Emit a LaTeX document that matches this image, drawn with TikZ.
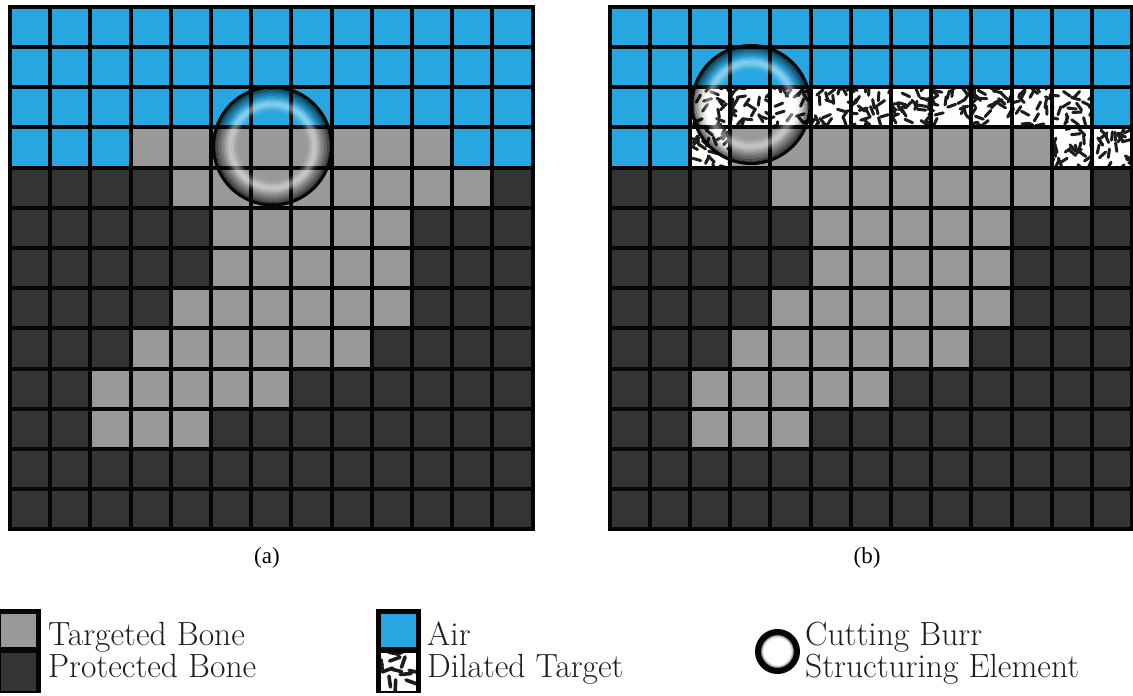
\documentclass[tikz,border=0pt]{standalone}
\usepackage{fontspec}
\newfontfamily\capfont{Liberation Serif}
\definecolor{cellA}{RGB}{38,167,225}
\definecolor{cellT}{RGB}{153,153,153}
\definecolor{cellP}{RGB}{51,52,52}
\definecolor{cellD}{RGB}{255,255,255}
\definecolor{gline}{RGB}{5,5,5}
\definecolor{dashc}{RGB}{28,28,28}
\definecolor{legtxt}{RGB}{30,30,30}
\tikzset{
  gridline/.style={draw=gline, line width=4pt},
  legtext/.style={inner sep=0pt, anchor=base west, text=legtxt, font=\fontsize{33.5}{33.5}\selectfont},
  captext/.style={inner sep=0pt, anchor=base, font=\capfont\fontsize{23}{23}\selectfont},
}
\newcommand\cellsize{40.2}
% x y w h count half-length width
\newcommand\dilcell[7]{%
  \begin{scope}
    \clip (#1,#2) rectangle ++(#3,#4);
    \foreach \nn in {1,...,#5}{%
      \pgfmathsetmacro\dx{rnd*(#3+8)-4}%
      \pgfmathsetmacro\dy{rnd*(#4+8)-4}%
      \pgfmathsetmacro\ang{rnd*360}%
      \draw[draw=dashc, line width=#7pt, line cap=round] (#1+\dx,#2+\dy) ++(\ang:#6) -- ++(\ang+180:2*#6);
    }
  \end{scope}}
\newcommand\drawgrid[3]{%
  \foreach \rowlist [count=\rr from 0] in {#3}{%
    \foreach \cc [count=\kk from 0] in \rowlist {%
      \fill[fill=cell\cc] (#1+\kk*\cellsize, #2+\rr*\cellsize) rectangle ++(\cellsize,\cellsize);
      \if D\cc
        \dilcell{#1+\kk*\cellsize}{#2+\rr*\cellsize}{\cellsize}{\cellsize}{28}{4.2}{3}
      \fi
    }
  }
  \foreach \ii in {1,...,12}{%
    \draw[gridline] (#1+\ii*\cellsize,#2) -- ++(0,13*\cellsize);
    \draw[gridline] (#1,#2+\ii*\cellsize) -- ++(13*\cellsize,0);
  }
  \draw[gridline, line join=miter] (#1,#2) rectangle ++(13*\cellsize,13*\cellsize);
}
\newcommand\glass[3]{%
  \foreach \ii in {0,...,47}{%
    \pgfmathsetmacro\ra{(0.4+0.6*\ii/48)*#3}%
    \pgfmathsetmacro\rb{(0.4+0.6*(\ii+1)/48)*#3}%
    \pgfmathsetmacro\tm{0.4+0.6*(\ii+0.5)/48}%
    \pgfmathsetmacro\wo{0.42*exp(-(\tm-0.7)*(\tm-0.7)/0.0064)}%
    \pgfmathsetmacro\bq{max(0,\tm-0.72)/0.28}%
    \pgfmathsetmacro\bo{0.92*\bq*\bq}%
    \fill[white, opacity=\wo, even odd rule] (#1,#2) circle[radius=\ra pt] circle[radius=\rb pt];
    \fill[black, opacity=\bo, even odd rule] (#1,#2) circle[radius=\ra pt] circle[radius=\rb pt];
  }}
\begin{document}
\begin{tikzpicture}[x=1pt, y=-1pt]
\useasboundingbox (0,0) rectangle (1133,696);
\pgfmathsetseed{7}
% grid (a)
\drawgrid{10}{6.7}{%
{A,A,A,A,A,A,A,A,A,A,A,A,A},
{A,A,A,A,A,A,A,A,A,A,A,A,A},
{A,A,A,A,A,A,A,A,A,A,A,A,A},
{A,A,A,T,T,T,T,T,T,T,T,A,A},
{P,P,P,P,T,T,T,T,T,T,T,T,P},
{P,P,P,P,P,T,T,T,T,T,P,P,P},
{P,P,P,P,P,T,T,T,T,T,P,P,P},
{P,P,P,P,T,T,T,T,T,T,P,P,P},
{P,P,P,T,T,T,T,T,T,P,P,P,P},
{P,P,T,T,T,T,T,P,P,P,P,P,P},
{P,P,T,T,T,P,P,P,P,P,P,P,P},
{P,P,P,P,P,P,P,P,P,P,P,P,P},
{P,P,P,P,P,P,P,P,P,P,P,P,P}}
% grid (b)
\drawgrid{609.5}{6.7}{%
{A,A,A,A,A,A,A,A,A,A,A,A,A},
{A,A,A,A,A,A,A,A,A,A,A,A,A},
{A,A,D,D,D,D,D,D,D,D,D,D,A},
{A,A,D,T,T,T,T,T,T,T,T,D,D},
{P,P,P,P,T,T,T,T,T,T,T,T,P},
{P,P,P,P,P,T,T,T,T,T,P,P,P},
{P,P,P,P,P,T,T,T,T,T,P,P,P},
{P,P,P,P,T,T,T,T,T,T,P,P,P},
{P,P,P,T,T,T,T,T,T,P,P,P,P},
{P,P,T,T,T,T,T,P,P,P,P,P,P},
{P,P,T,T,T,P,P,P,P,P,P,P,P},
{P,P,P,P,P,P,P,P,P,P,P,P,P},
{P,P,P,P,P,P,P,P,P,P,P,P,P}}
% cutting burrs
\glass{272.5}{146}{60}
\draw[gline, line width=3pt] (272.5,146) circle[radius=59pt];
\glass{751}{104.5}{60}
\draw[gline, line width=3pt] (751,104.5) circle[radius=59pt];
% captions
\node[captext] (capa) at (267,563) {(a)};
\node[captext] (capb) at (867,563) {(b)};
% legend 1
\fill[gline] (-4,609) rectangle (41,693);
\fill[cellT] (1,614) rectangle (36,647);
\fill[cellP] (1,653) rectangle (36,691);
\node[legtext] (lt) at (48,645) {Targeted Bone};
\node[legtext] (lp) at (48,677) {Protected Bone};
% legend 2
\fill[gline] (375.7,609) rectangle (420.7,693);
\fill[cellA] (380.5,614) rectangle (416,647);
\fill[white] (380.5,653) rectangle (416,691);
\pgfmathsetseed{23}
\dilcell{380.5}{653}{35.5}{38}{16}{5.5}{3.6}
\node[legtext] (la) at (427,645) {Air};
\node[legtext] (ld) at (427,677) {Dilated Target};
% legend 3
\fill[white] (777.5,651.5) circle[radius=19.5pt];
\glass{777.5}{651.5}{18}
\draw[gline, line width=6pt] (777.5,651.5) circle[radius=19.5pt];
\node[legtext] (lc) at (805,645) {Cutting Burr};
\node[legtext] (ls) at (805,677) {Structuring Element};
\end{tikzpicture}
\end{document}
